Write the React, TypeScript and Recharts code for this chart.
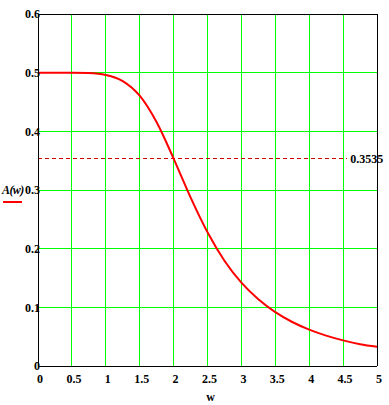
import { LineChart, Line, XAxis, YAxis, CartesianGrid, ReferenceLine } from "recharts";

const W = [0, 0.25, 0.5, 0.75, 1, 1.25, 1.5, 1.75, 2, 2.25, 2.5, 2.75, 3, 3.25, 3.5, 3.75, 4, 4.25, 4.5, 4.75, 5];
const A = [0.5, 0.5, 0.4999, 0.4993, 0.4961, 0.4857, 0.4607, 0.4154, 0.3536, 0.2874, 0.2279, 0.1795, 0.142, 0.1136, 0.0917, 0.075, 0.062, 0.0518, 0.0437, 0.0372, 0.033];
const X_TICKS = [0, 0.5, 1, 1.5, 2, 2.5, 3, 3.5, 4, 4.5, 5];
const Y_TICKS = [0, 0.1, 0.2, 0.3, 0.4, 0.5, 0.6];
const CUTOFF = 0.3535;
const CUTOFF_END = 4.56;

const data = W.map((w, i) => ({ w, a: A[i] }));

const FONT = { fontFamily: "'Liberation Serif', serif", fontWeight: 700, fontSize: 12, fill: "#000" };
const AXIS_LINE = { stroke: "#000", shapeRendering: "crispEdges" };

export default function App() {
  return (
    <div style={{ position: "absolute", left: 0, top: 0, background: "#fff" }}>
      <LineChart width={389} height={405} data={data} margin={{ top: 0, right: 0, left: 0, bottom: 0 }}>
        <CartesianGrid
          stroke="#00ff00"
          strokeWidth={1}
          shapeRendering="crispEdges"
          horizontalValues={Y_TICKS}
          verticalValues={X_TICKS}
        />
        <XAxis
          xAxisId="top"
          orientation="top"
          dataKey="w"
          type="number"
          domain={[0, 5]}
          height={14}
          tick={false}
          tickLine={false}
          axisLine={AXIS_LINE}
        />
        <YAxis
          yAxisId="right"
          orientation="right"
          type="number"
          domain={[0, 0.6]}
          width={12}
          tick={false}
          tickLine={false}
          axisLine={AXIS_LINE}
        />
        <XAxis
          dataKey="w"
          type="number"
          domain={[0, 5]}
          ticks={X_TICKS}
          height={39}
          tickLine={false}
          tickSize={0}
          tickMargin={8}
          dx={2}
          tick={FONT}
          axisLine={AXIS_LINE}
          label={{
            content: ({ viewBox }: any) => (
              <text x={viewBox.x + viewBox.width / 2 + 3} y={viewBox.y + 35} textAnchor="middle" {...FONT}>
                w
              </text>
            ),
          }}
        />
        <YAxis
          type="number"
          domain={[0, 0.6]}
          ticks={Y_TICKS}
          width={38}
          tickLine={false}
          tickSize={0}
          tickMargin={-2}
          tick={FONT}
          axisLine={AXIS_LINE}
          label={{
            content: () => (
              <g>
                <text x={2} y={194} {...FONT} fontStyle="italic" letterSpacing={-0.6}>
                  A(w)
                </text>
                <line x1={3} x2={22} y1={202} y2={202} stroke="#ff0000" strokeWidth={2} />
              </g>
            ),
          }}
        />
        <ReferenceLine
          segment={[{ x: 0, y: CUTOFF }, { x: CUTOFF_END, y: CUTOFF }]}
          stroke="#cc0000"
          strokeDasharray="4 3"
          shapeRendering="crispEdges"
          label={{
            content: ({ viewBox }: any) => (
              <text x={viewBox.x + viewBox.width + 3} y={viewBox.y + 4} {...FONT}>
                {CUTOFF}
              </text>
            ),
          }}
        />
        <Line
          type="monotone"
          dataKey="a"
          stroke="#ff0000"
          strokeWidth={2}
          dot={false}
          isAnimationActive={false}
        />
      </LineChart>
    </div>
  );
}
